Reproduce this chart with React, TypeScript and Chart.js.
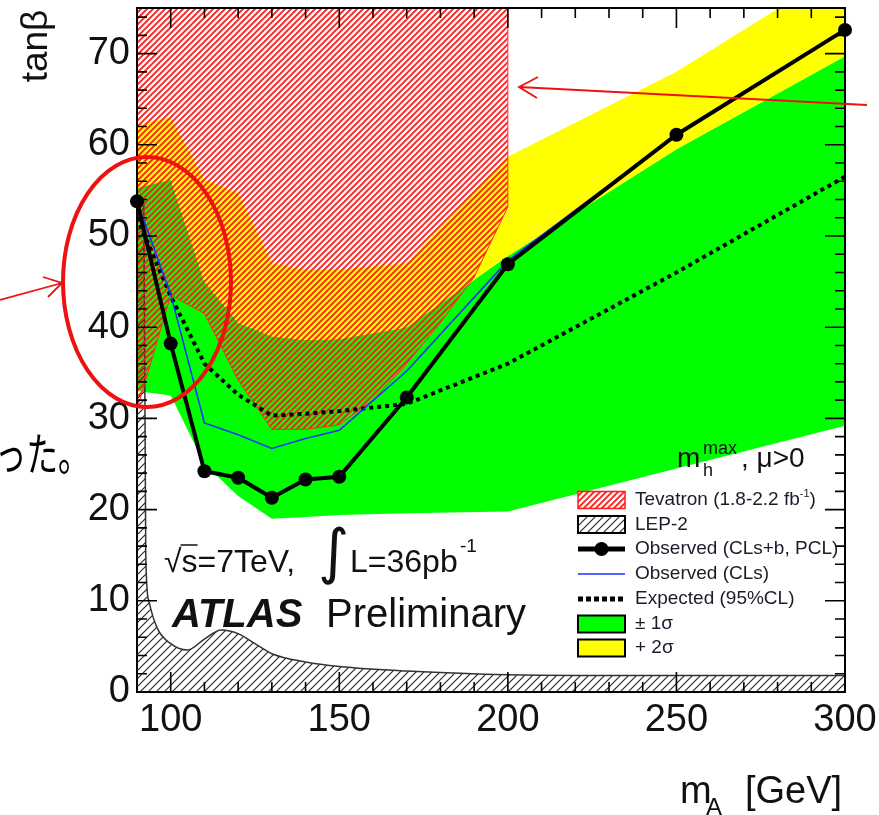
import React, { useEffect, useRef } from "react";
import { Chart, registerables } from "chart.js";
Chart.register(...registerables);

// ---- data ----
const MASS = [90, 100, 110, 120, 130, 140, 150, 170, 200, 250, 300];
const OBSERVED = [53.8, 38.2, 24.2, 23.5, 21.3, 23.3, 23.6, 32.3, 46.9, 61.1, 72.6];
const OBSERVED_CLS = [53.8, 43.6, 29.5, 28.2, 26.7, 27.8, 28.7, 35.2, 47.3, 61.1, 72.6];
const EXPECTED = [52, 43.4, 36, 32.6, 30.3, 30.5, 30.8, 31.6, 36, 46, 56.5];
const ONE_SIGMA_LOW = [33, 32.5, 25, 21.5, 19, 19.2, 19.4, 19.6, 19.8, 24.5, 29.2];
const ONE_SIGMA_HIGH = [55.3, 56.2, 45, 40.5, 39, 38.6, 38.7, 40, 47.8, 59.5, 69.7];
const TWO_SIGMA_HIGH = [62.2, 63, 56.2, 54.7, 47, 46.3, 46.3, 47, 58.7, 68, 79.5];

const TEV_MASS = [90, 100, 110, 120, 130, 140, 150, 160, 170, 180, 190, 200, 200];
const TEV_LIMIT = [31, 43.5, 41.5, 34.2, 28.8, 28.8, 29.3, 32, 36, 40.5, 45.5, 53.2, 75];

const LEP_MASS = [90, 92, 92.6, 93.5, 96, 100, 105, 110, 115, 120, 125, 130, 140, 150, 170, 200, 250, 300];
const LEP_LIMIT = [54, 54, 15, 10, 7, 5.3, 4.6, 5.8, 6.8, 6.4, 5.3, 4.2, 3.3, 2.8, 2.3, 1.9, 1.8, 1.8];

const X_TICKS = [100, 150, 200, 250, 300];
const Y_TICKS = [0, 10, 20, 30, 40, 50, 60, 70];
const X_MIN = 90, X_MAX = 300, Y_MIN = 0, Y_MAX = 75;

const LEGEND_LABELS = [
  "Tevatron (1.8-2.2 fb",
  "LEP-2",
  "Observed (CLs+b, PCL)",
  "Observed (CLs)",
  "Expected (95%CL)",
  "\u00b1 1\u03c3",
  "+ 2\u03c3",
];

const pts = (xs: number[], ys: number[]) => xs.map((x, i) => ({ x, y: ys[i] }));

function makeHatch(color: string, size: number, lw: number) {
  const c = document.createElement("canvas");
  c.width = size;
  c.height = size;
  const g = c.getContext("2d")!;
  g.strokeStyle = color;
  g.lineWidth = lw;
  g.beginPath();
  g.moveTo(0, size);
  g.lineTo(size, 0);
  g.moveTo(-size / 2, size / 2);
  g.lineTo(size / 2, -size / 2);
  g.moveTo(size / 2, size * 1.5);
  g.lineTo(size * 1.5, size / 2);
  g.stroke();
  return g.createPattern(c, "repeat")!;
}

const SANS = '"Liberation Sans", Arial, Helvetica, sans-serif';

export default function App() {
  const ref = useRef<HTMLCanvasElement>(null);

  useEffect(() => {
    const canvas = ref.current!;
    const tevHatch = makeHatch("#ff1a1a", 6, 1.8);
    const lepHatch = makeHatch("#2a2a2a", 8, 1.2);

    const overlay = {
      id: "overlay",
      afterDatasetsDraw(chart: any) {
        const ctx = chart.ctx as CanvasRenderingContext2D;
        const a = chart.chartArea;
        const xs = chart.scales.x;
        const ys = chart.scales.y;
        ctx.save();
        ctx.strokeStyle = "#000";
        ctx.lineWidth = 2;
        ctx.strokeRect(a.left, a.top, a.right - a.left, a.bottom - a.top);
        ctx.lineWidth = 1.6;
        ctx.beginPath();
        for (let v = X_MIN + 10; v < X_MAX; v += 10) {
          const px = xs.getPixelForValue(v);
          const L = v % 50 === 0 ? 20 : 10;
          ctx.moveTo(px, a.bottom);
          ctx.lineTo(px, a.bottom - L);
          ctx.moveTo(px, a.top);
          ctx.lineTo(px, a.top + L);
        }
        for (let v = Y_MIN + 2; v < Y_MAX; v += 2) {
          const py = ys.getPixelForValue(v);
          const L = v % 10 === 0 ? 20 : 10;
          ctx.moveTo(a.left, py);
          ctx.lineTo(a.left + L, py);
          ctx.moveTo(a.right, py);
          ctx.lineTo(a.right - L, py);
        }
        ctx.stroke();
        ctx.restore();
      },
      afterDraw(chart: any) {
        const ctx = chart.ctx as CanvasRenderingContext2D;
        ctx.save();
        ctx.fillStyle = "#111";
        ctx.textBaseline = "alphabetic";
        ctx.textAlign = "left";

        // y title
        ctx.save();
        ctx.translate(47, 46);
        ctx.rotate(-Math.PI / 2);
        ctx.font = `37px ${SANS}`;
        ctx.textAlign = "center";
        ctx.fillText("tan\u03b2", 0, 0);
        ctx.restore();

        // x title
        ctx.font = `38px ${SANS}`;
        ctx.fillText("m", 680, 803);
        ctx.font = `24px ${SANS}`;
        ctx.fillText("A", 706, 815);
        ctx.font = `38px ${SANS}`;
        ctx.fillText("[GeV]", 745, 803);

        // sqrt(s), lumi
        ctx.font = `32px ${SANS}`;
        const wRoot = ctx.measureText("\u221a").width;
        ctx.fillText("\u221a", 164, 572);
        const wS = ctx.measureText("s").width;
        ctx.fillText("s=7TeV,", 164 + wRoot, 572);
        ctx.strokeStyle = "#111";
        ctx.lineWidth = 1.5;
        ctx.beginPath();
        ctx.moveTo(164 + wRoot - 1, 545);
        ctx.lineTo(164 + wRoot + wS, 545);
        ctx.stroke();
        ctx.font = `60px "DejaVu Sans", sans-serif`;
        ctx.textBaseline = "middle";
        ctx.fillText("\u222b", 318, 556);
        ctx.textBaseline = "alphabetic";
        ctx.font = `32px ${SANS}`;
        ctx.fillText("L=36pb", 350, 572);
        ctx.font = `19px ${SANS}`;
        ctx.fillText("-1", 460, 552);

        // ATLAS Preliminary
        ctx.font = `italic bold 40px ${SANS}`;
        ctx.fillText("ATLAS", 172, 627);
        ctx.font = `40px ${SANS}`;
        ctx.fillText("Preliminary", 326, 627);

        // m_h^max, mu>0
        ctx.font = `28px ${SANS}`;
        ctx.fillText("m", 677, 467);
        ctx.font = `18px ${SANS}`;
        ctx.fillText("max", 703, 454);
        ctx.fillText("h", 703, 476);
        ctx.font = `28px ${SANS}`;
        ctx.fillText(", \u03bc>0", 741, 467);

        // legend
        const bx = 578, bw = 47, bh = 17;
        const rows = [500, 524.5, 549, 574, 599, 624, 648];
        ctx.fillStyle = "#fff";
        ctx.fillRect(bx, rows[0] - bh / 2, bw, bh);
        ctx.fillStyle = tevHatch;
        ctx.fillRect(bx, rows[0] - bh / 2, bw, bh);
        ctx.strokeStyle = "#ff1a1a";
        ctx.lineWidth = 1.5;
        ctx.strokeRect(bx, rows[0] - bh / 2, bw, bh);
        ctx.fillStyle = "#fff";
        ctx.fillRect(bx, rows[1] - bh / 2, bw, bh);
        ctx.fillStyle = lepHatch;
        ctx.fillRect(bx, rows[1] - bh / 2, bw, bh);
        ctx.strokeStyle = "#000";
        ctx.lineWidth = 2;
        ctx.strokeRect(bx, rows[1] - bh / 2, bw, bh);
        ctx.lineWidth = 5;
        ctx.beginPath();
        ctx.moveTo(bx, rows[2]);
        ctx.lineTo(bx + bw, rows[2]);
        ctx.stroke();
        ctx.fillStyle = "#000";
        ctx.beginPath();
        ctx.arc(bx + bw / 2, rows[2], 7, 0, Math.PI * 2);
        ctx.fill();
        ctx.strokeStyle = "#1a33ff";
        ctx.lineWidth = 1.5;
        ctx.beginPath();
        ctx.moveTo(bx, rows[3]);
        ctx.lineTo(bx + bw, rows[3]);
        ctx.stroke();
        ctx.strokeStyle = "#000";
        ctx.lineWidth = 5;
        ctx.setLineDash([5, 3]);
        ctx.beginPath();
        ctx.moveTo(bx, rows[4]);
        ctx.lineTo(bx + bw, rows[4]);
        ctx.stroke();
        ctx.setLineDash([]);
        ctx.lineWidth = 2;
        ctx.fillStyle = "#00ff00";
        ctx.fillRect(bx, rows[5] - bh / 2, bw, bh);
        ctx.strokeRect(bx, rows[5] - bh / 2, bw, bh);
        ctx.fillStyle = "#ffff00";
        ctx.fillRect(bx, rows[6] - bh / 2, bw, bh);
        ctx.strokeRect(bx, rows[6] - bh / 2, bw, bh);

        ctx.fillStyle = "#1b1b2a";
        ctx.textBaseline = "middle";
        ctx.font = `19px ${SANS}`;
        LEGEND_LABELS.forEach((t, i) => {
          ctx.fillText(t, 635, rows[i]);
        });
        const wt = ctx.measureText(LEGEND_LABELS[0]).width;
        ctx.font = `11px ${SANS}`;
        ctx.fillText("-1", 635 + wt, rows[0] - 6);
        const ws = ctx.measureText("-1").width;
        ctx.font = `19px ${SANS}`;
        ctx.fillText(")", 635 + wt + ws, rows[0]);

        // Japanese text fragment from the slide
        ctx.save();
        ctx.fillStyle = "#000";
        ctx.textBaseline = "alphabetic";
        ctx.font = `45px "Noto Sans CJK JP", sans-serif`;
        ctx.translate(-5, 471);
        ctx.scale(0.7, 1);
        ctx.fillText("\u3063\u305f\u3002", 0, 0);
        ctx.restore();

        // red annotation ellipse and arrows
        ctx.strokeStyle = "#ee1111";
        ctx.lineWidth = 4;
        ctx.beginPath();
        ctx.ellipse(147, 282, 84, 125, 0, 0, Math.PI * 2);
        ctx.stroke();
        ctx.lineWidth = 1.8;
        ctx.beginPath();
        ctx.moveTo(0, 300);
        ctx.lineTo(62, 283);
        ctx.moveTo(43, 277);
        ctx.lineTo(62, 283);
        ctx.lineTo(48, 297);
        ctx.moveTo(867, 105);
        ctx.lineTo(519, 87);
        ctx.moveTo(538, 77);
        ctx.lineTo(519, 87);
        ctx.lineTo(537, 98);
        ctx.stroke();
        ctx.restore();
      },
    };

    const chart = new Chart(canvas, {
      type: "line",
      data: {
        datasets: [
          {
            label: "Observed (CLs+b, PCL)",
            data: pts(MASS, OBSERVED),
            borderColor: "#000",
            backgroundColor: "#000",
            borderWidth: 4,
            pointRadius: 7,
            pointBackgroundColor: "#000",
            pointBorderWidth: 0,
            fill: false,
            order: 1,
            clip: false,
          },
          {
            label: "Observed (CLs)",
            data: pts(MASS, OBSERVED_CLS),
            borderColor: "#1a33ff",
            borderWidth: 1.6,
            pointRadius: 0,
            fill: false,
            order: 2,
          },
          {
            label: "Expected (95%CL)",
            data: pts(MASS, EXPECTED),
            borderColor: "#000",
            borderWidth: 4,
            borderDash: [4, 4],
            pointRadius: 0,
            fill: false,
            order: 3,
          },
          {
            label: "Tevatron",
            data: pts(TEV_MASS, TEV_LIMIT),
            borderColor: "#ff2a2a",
            borderWidth: 1,
            backgroundColor: tevHatch,
            pointRadius: 0,
            fill: "end",
            order: 4,
          },
          {
            label: "LEP-2",
            data: pts(LEP_MASS, LEP_LIMIT),
            borderColor: "#333",
            borderWidth: 1.5,
            backgroundColor: lepHatch,
            pointRadius: 0,
            cubicInterpolationMode: "monotone",
            fill: "origin",
            order: 5,
          },
          {
            label: "+2 sigma",
            data: pts(MASS, TWO_SIGMA_HIGH),
            borderWidth: 0,
            borderColor: "rgba(0,0,0,0)",
            backgroundColor: "#ffff00",
            pointRadius: 0,
            fill: 6,
            order: 6,
          },
          {
            label: "+1 sigma",
            data: pts(MASS, ONE_SIGMA_HIGH),
            borderWidth: 0,
            borderColor: "rgba(0,0,0,0)",
            backgroundColor: "#00ff00",
            pointRadius: 0,
            fill: 7,
            order: 7,
          },
          {
            label: "-1 sigma",
            data: pts(MASS, ONE_SIGMA_LOW),
            borderWidth: 0,
            borderColor: "rgba(0,0,0,0)",
            pointRadius: 0,
            fill: false,
            order: 8,
          },
        ],
      },
      options: {
        responsive: false,
        animation: false,
        devicePixelRatio: 1,
        layout: { padding: { left: 0, top: 8, right: 34, bottom: 0 } },
        plugins: {
          legend: { display: false },
          tooltip: { enabled: false },
          filler: { propagate: false },
        },
        elements: { line: { tension: 0 } },
        scales: {
          x: {
            type: "linear",
            min: X_MIN,
            max: X_MAX,
            grid: { display: false, drawTicks: false },
            border: { display: false },
            afterBuildTicks: (s: any) => {
              s.ticks = X_TICKS.map((v) => ({ value: v }));
            },
            afterFit: (s: any) => {
              s.height = 123;
              s.paddingLeft = 0;
              s.paddingRight = 0;
            },
            ticks: {
              padding: 6,
              maxRotation: 0,
              autoSkip: false,
              color: "#111",
              font: { family: "Liberation Sans", size: 38 },
            },
          },
          y: {
            type: "linear",
            min: Y_MIN,
            max: Y_MAX,
            grid: { display: false, drawTicks: false },
            border: { display: false },
            afterBuildTicks: (s: any) => {
              s.ticks = Y_TICKS.map((v) => ({ value: v }));
            },
            afterFit: (s: any) => {
              s.width = 137;
              s.paddingTop = 0;
              s.paddingBottom = 0;
            },
            ticks: {
              padding: 7,
              autoSkip: false,
              color: "#111",
              font: { family: "Liberation Sans", size: 38 },
            },
          },
        },
      },
      plugins: [overlay],
    } as any);
    return () => chart.destroy();
  }, []);

  return (
    <div style={{ position: "fixed", left: 0, top: 0, width: 879, height: 815, background: "#fff" }}>
      <canvas ref={ref} width={879} height={815} style={{ width: 879, height: 815, display: "block" }} />
    </div>
  );
}
